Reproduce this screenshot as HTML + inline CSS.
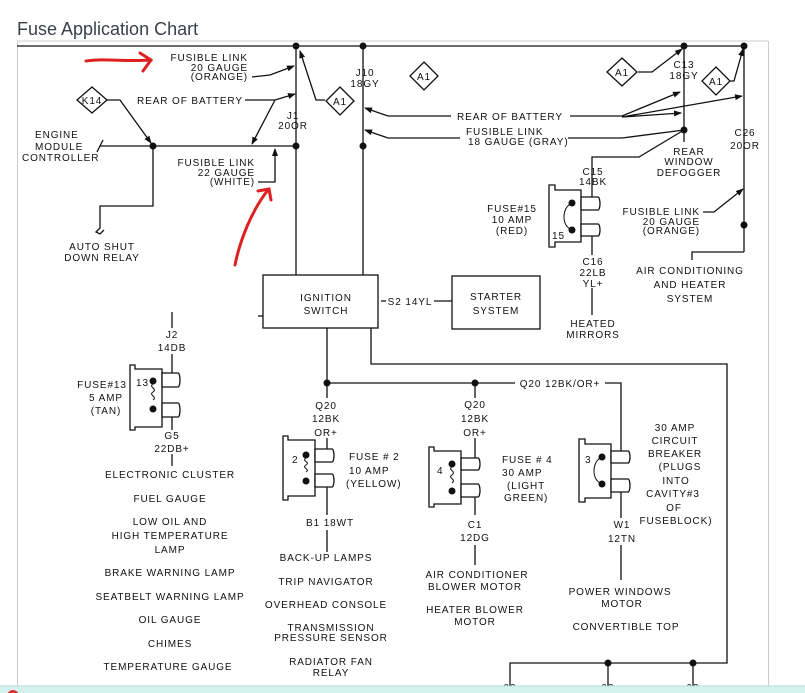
<!DOCTYPE html>
<html><head><meta charset="utf-8"><style>
html,body{margin:0;padding:0;background:#fff;width:805px;height:693px;overflow:hidden}
svg{display:block}
text{font-family:"Liberation Sans",sans-serif;font-size:10px;letter-spacing:0.9px;fill:#111}
.t{font-size:18px;letter-spacing:0;fill:#3a3f4a}
</style></head><body>
<svg width="805" height="693" viewBox="0 0 805 693" xmlns="http://www.w3.org/2000/svg">
<defs><marker id="a" markerWidth="8" markerHeight="8" refX="7" refY="4" orient="auto" markerUnits="userSpaceOnUse"><path d="M0,1 L8,4 L0,7z" fill="#111"/></marker></defs>
<text x="17" y="35" class="t">Fuse Application Chart</text>
<line x1="17" y1="41" x2="768" y2="41" stroke="#ccc"/>
<line x1="17.5" y1="41" x2="17.5" y2="686" stroke="#ccc"/>
<line x1="768.5" y1="41" x2="768.5" y2="686" stroke="#ccc"/>
<g stroke="#e02020" stroke-width="3" fill="none" stroke-linecap="round">
<path d="M86,61 C105,58 125,62 150,60"/><path d="M140,53 L151,60 L143,71"/>
<path d="M235,265 C240,240 252,210 268,190"/><path d="M258,191 L269,189 L271,200"/>
</g>
<g stroke="#111" stroke-width="1.3" fill="none">
<line x1="17" y1="46" x2="745" y2="46"/>
<line x1="296" y1="46" x2="296" y2="275"/>
<line x1="363" y1="46" x2="363" y2="275"/>
<path d="M100,146 H296"/>
<path d="M100,146 l3,-6 M100,146 l-3,6"/>
<path d="M153,146 V206 H100 V228 l-4,4 l4,2 l4,-4"/>
<path d="M107,100 H120 L151,143" marker-end="url(#a)"/>
<path d="M252,77 L270,75 L294,66" marker-end="url(#a)"/>
<path d="M245,100 H275 L295,94" marker-end="url(#a)"/>
<path d="M275,100 L252,144" marker-end="url(#a)"/>
<path d="M258,182 H275 V149" marker-end="url(#a)"/>
<path d="M325,100 H316 L300,51" marker-end="url(#a)"/>
<path d="M451,116 H388 L365,108" marker-end="url(#a)"/>
<path d="M460,138 H388 L365,130" marker-end="url(#a)"/>
<path d="M570,116 H622 L680,92" marker-end="url(#a)"/>
<path d="M622,117 L742,96" marker-end="url(#a)"/>
<path d="M622,117 L681,113" marker-end="url(#a)"/>
<path d="M568,138 H622 L684,130"/>
<line x1="684" y1="46" x2="684" y2="142"/>
<path d="M684,130 L639,157 H592 V197"/>
<path d="M638,72 H652 L682,49" marker-end="url(#a)"/>
<path d="M730,81 H734 L743,49" marker-end="url(#a)"/>
<line x1="744" y1="46" x2="744" y2="252"/>
<path d="M744,252 H692 V260"/>
<path d="M703,212 H714 L743,189" marker-end="url(#a)"/>
<rect x="263" y="275" width="115" height="53"/>
<rect x="452" y="276" width="88" height="53"/>
<path d="M381,301 H386 M434,301 H452"/>
<path d="M263,316 H258"/>
<path d="M327,328 V383 M371,328 V364 H727 V663 H510 V690"/>
<path d="M608,663 V690 M693,663 V690"/>
<path d="M327,383 H515 M605,383 H621 V451"/>
<path d="M327,383 V398 M475,383 V398"/>
<path d="M172,312 V328 M172,354 V373 M172,417 V430 M172,454 V466"/>
<path d="M327,438 V449 M327,487 V515 M327,530 V552"/>
<path d="M475,438 V458 M475,497 V515 M475,545 V565"/>
<path d="M621,492 V518 M621,545 V580"/>
<path d="M592,236 V255 M592,288 V315"/>
</g>
<g fill="#111">
<circle cx="296" cy="46" r="3.5"/><circle cx="363" cy="46" r="3.5"/><circle cx="684" cy="46" r="3.5"/><circle cx="744" cy="46" r="3.5"/>
<circle cx="153" cy="146" r="3.5"/><circle cx="296" cy="146" r="3.5"/><circle cx="363" cy="146" r="3.5"/>
<circle cx="684" cy="130" r="3.5"/><circle cx="744" cy="225" r="3.5"/>
<circle cx="327" cy="383" r="3.5"/><circle cx="475" cy="383" r="3.5"/>
<circle cx="608" cy="663" r="3.5"/><circle cx="693" cy="663" r="3.5"/>
</g>
<g fill="#fff" stroke="#111" stroke-width="1.3">
<path d="M92,87 L107,100 L92,113 L77,100z"/>
<path d="M340,87 L354,101 L340,115 L326,101z"/>
<path d="M424,62 L438,76 L424,90 L410,76z"/>
<path d="M622,58 L637,72 L622,86 L607,72z"/>
<path d="M716,67 L730,81 L716,95 L702,81z"/>
</g>
<g text-anchor="middle">
<text x="92" y="104" font-size="9">K14</text><text x="340" y="105" font-size="9">A1</text><text x="424" y="80" font-size="9">A1</text><text x="622" y="76" font-size="9">A1</text><text x="716" y="85" font-size="9">A1</text>
</g>
<g stroke="#111" stroke-width="1.3" fill="#fff">
<path d="M130,365 h5 v4 h27 v58 h-27 v3 h-5z"/><path d="M162,373 h16 a2,7 0 0 1 0,14 h-16z"/><path d="M162,403 h16 a2,7 0 0 1 0,14 h-16z"/>
<path d="M283,436 h5 v4 h27 v56 h-27 v4 h-5z"/><path d="M315,449 h17 a2,6.5 0 0 1 0,13 h-17z"/><path d="M315,474 h17 a2,6.5 0 0 1 0,13 h-17z"/>
<path d="M429,447 h5 v4 h27 v53 h-27 v3 h-5z"/><path d="M461,458 h17 a2,6 0 0 1 0,12 h-17z"/><path d="M461,484 h17 a2,6.5 0 0 1 0,13 h-17z"/>
<path d="M579,439 h6 v5 h26 v54 h-26 v4 h-6z"/><path d="M611,451 h17 a2,6 0 0 1 0,12 h-17z"/><path d="M611,479 h17 a2,6.5 0 0 1 0,13 h-17z"/>
<path d="M549,185 h6 v5 h26 v52 h-26 v5 h-6z"/><path d="M581,197 h17 a2,6.5 0 0 1 0,13 h-17z"/><path d="M581,224 h17 a2,6 0 0 1 0,12 h-17z"/>
</g>
<g fill="#111" stroke="#111" stroke-width="1">
<circle cx="153" cy="381" r="3"/><circle cx="153" cy="409" r="3"/><path d="M153,384 c-5,3 5,5 0,8 c-5,3 5,5 0,8" fill="none"/>
<circle cx="306" cy="455" r="3"/><circle cx="306" cy="481" r="3"/><path d="M306,458 c-5,3 5,4 0,7 c-5,3 5,4 0,7" fill="none"/>
<circle cx="452" cy="464" r="3"/><circle cx="452" cy="491" r="3"/><path d="M452,467 c-5,3 5,4 0,8 c-5,3 5,4 0,8" fill="none"/>
<circle cx="602" cy="457" r="3"/><circle cx="602" cy="484" r="3"/><path d="M600,458 c-8,6 -8,20 0,25" fill="none"/>
<circle cx="572" cy="203" r="3"/><circle cx="572" cy="230" r="3"/><path d="M570,204 c-8,6 -8,20 0,25" fill="none"/>
</g>
<g>
<text x="248" y="61" text-anchor="end">FUSIBLE LINK</text><text x="248" y="71" text-anchor="end">20 GAUGE</text><text x="248" y="80" text-anchor="end">(ORANGE)</text>
<text x="137" y="104">REAR OF BATTERY</text>
<text x="35" y="138">ENGINE</text><text x="35" y="150">MODULE</text><text x="22" y="161">CONTROLLER</text>
<text x="255" y="166" text-anchor="end">FUSIBLE LINK</text><text x="255" y="176" text-anchor="end">22 GAUGE</text><text x="255" y="185" text-anchor="end">(WHITE)</text>
<text x="102" y="250" text-anchor="middle">AUTO SHUT</text><text x="102" y="261" text-anchor="middle">DOWN RELAY</text>
<text x="293" y="119" text-anchor="middle">J1</text><text x="293" y="129" text-anchor="middle">20OR</text>
<text x="365" y="76" text-anchor="middle">J10</text><text x="365" y="87" text-anchor="middle">18GY</text>
<text x="457" y="120">REAR OF BATTERY</text>
<text x="466" y="135">FUSIBLE LINK</text><text x="468" y="145">18 GAUGE (GRAY)</text>
<text x="684" y="68" text-anchor="middle">C13</text><text x="684" y="79" text-anchor="middle">18GY</text>
<text x="689" y="155" text-anchor="middle">REAR</text><text x="689" y="165" text-anchor="middle">WINDOW</text><text x="689" y="176" text-anchor="middle">DEFOGGER</text>
<text x="745" y="136" text-anchor="middle">C26</text><text x="745" y="149" text-anchor="middle">20OR</text>
<text x="700" y="215" text-anchor="end">FUSIBLE LINK</text><text x="700" y="225" text-anchor="end">20 GAUGE</text><text x="700" y="234" text-anchor="end">(ORANGE)</text>
<text x="690" y="274" text-anchor="middle">AIR CONDITIONING</text><text x="690" y="288" text-anchor="middle">AND HEATER</text><text x="690" y="302" text-anchor="middle">SYSTEM</text>
<text x="593" y="175" text-anchor="middle">C15</text><text x="593" y="185" text-anchor="middle">14BK</text>
<text x="512" y="212" text-anchor="middle">FUSE#15</text><text x="512" y="223" text-anchor="middle">10 AMP</text><text x="512" y="234" text-anchor="middle">(RED)</text>
<text x="552" y="239">15</text>
<text x="593" y="265" text-anchor="middle">C16</text><text x="593" y="276" text-anchor="middle">22LB</text><text x="593" y="287" text-anchor="middle">YL+</text>
<text x="593" y="327" text-anchor="middle">HEATED</text><text x="593" y="338" text-anchor="middle">MIRRORS</text>
<text x="326" y="301" text-anchor="middle">IGNITION</text><text x="326" y="314" text-anchor="middle">SWITCH</text>
<text x="410" y="305" text-anchor="middle">S2 14YL</text>
<text x="496" y="300" text-anchor="middle">STARTER</text><text x="496" y="314" text-anchor="middle">SYSTEM</text>
<text x="172" y="338" text-anchor="middle">J2</text><text x="172" y="351" text-anchor="middle">14DB</text>
<text x="102" y="388" text-anchor="middle">FUSE#13</text><text x="106" y="401" text-anchor="middle">5 AMP</text><text x="106" y="414" text-anchor="middle">(TAN)</text>
<text x="136" y="386">13</text>
<text x="172" y="439" text-anchor="middle">G5</text><text x="172" y="452" text-anchor="middle">22DB+</text>
<text x="170" y="478" text-anchor="middle">ELECTRONIC CLUSTER</text>
<text x="170" y="502" text-anchor="middle">FUEL GAUGE</text>
<text x="170" y="525" text-anchor="middle">LOW OIL AND</text><text x="170" y="539" text-anchor="middle">HIGH TEMPERATURE</text><text x="170" y="553" text-anchor="middle">LAMP</text>
<text x="170" y="576" text-anchor="middle">BRAKE WARNING LAMP</text>
<text x="170" y="600" text-anchor="middle">SEATBELT WARNING LAMP</text>
<text x="170" y="623" text-anchor="middle">OIL GAUGE</text>
<text x="170" y="647" text-anchor="middle">CHIMES</text>
<text x="168" y="670" text-anchor="middle">TEMPERATURE GAUGE</text>
<text x="326" y="409" text-anchor="middle">Q20</text><text x="326" y="422" text-anchor="middle">12BK</text><text x="326" y="436" text-anchor="middle">OR+</text>
<text x="292" y="463">2</text>
<text x="349" y="460">FUSE # 2</text><text x="349" y="474">10 AMP</text><text x="346" y="487">(YELLOW)</text>
<text x="330" y="526" text-anchor="middle">B1  18WT</text>
<text x="326" y="561" text-anchor="middle">BACK-UP LAMPS</text>
<text x="326" y="585" text-anchor="middle">TRIP NAVIGATOR</text>
<text x="326" y="608" text-anchor="middle">OVERHEAD CONSOLE</text>
<text x="331" y="631" text-anchor="middle">TRANSMISSION</text><text x="331" y="641" text-anchor="middle">PRESSURE SENSOR</text>
<text x="331" y="665" text-anchor="middle">RADIATOR FAN</text><text x="331" y="676" text-anchor="middle">RELAY</text>
<text x="560" y="387" text-anchor="middle">Q20 12BK/OR+</text>
<text x="475" y="408" text-anchor="middle">Q20</text><text x="475" y="422" text-anchor="middle">12BK</text><text x="475" y="436" text-anchor="middle">OR+</text>
<text x="437" y="474">4</text>
<text x="502" y="463">FUSE # 4</text><text x="502" y="476">30 AMP</text><text x="507" y="489">(LIGHT</text><text x="504" y="501">GREEN)</text>
<text x="475" y="528" text-anchor="middle">C1</text><text x="475" y="541" text-anchor="middle">12DG</text>
<text x="477" y="578" text-anchor="middle">AIR CONDITIONER</text><text x="475" y="590" text-anchor="middle">BLOWER MOTOR</text>
<text x="475" y="613" text-anchor="middle">HEATER BLOWER</text><text x="475" y="625" text-anchor="middle">MOTOR</text>
<text x="585" y="463">3</text>
<text x="675" y="431" text-anchor="middle">30 AMP</text><text x="675" y="444" text-anchor="middle">CIRCUIT</text><text x="675" y="457" text-anchor="middle">BREAKER</text><text x="680" y="470" text-anchor="middle">(PLUGS</text><text x="676" y="484" text-anchor="middle">INTO</text><text x="673" y="497" text-anchor="middle">CAVITY#3</text><text x="674" y="511" text-anchor="middle">OF</text><text x="676" y="524" text-anchor="middle">FUSEBLOCK)</text>
<text x="622" y="528" text-anchor="middle">W1</text><text x="622" y="542" text-anchor="middle">12TN</text>
<text x="620" y="595" text-anchor="middle">POWER WINDOWS</text><text x="622" y="607" text-anchor="middle">MOTOR</text>
<text x="626" y="630" text-anchor="middle">CONVERTIBLE TOP</text>
<text x="510" y="691" text-anchor="middle">02</text><text x="608" y="691" text-anchor="middle">02</text><text x="693" y="691" text-anchor="middle">02</text>
</g>
<rect x="0" y="686" width="805" height="7" fill="#d4f3ef"/>
<line x1="0" y1="686" x2="805" y2="686" stroke="#b5dcd6"/>
<circle cx="13" cy="696" r="6" fill="#d33"/>
</svg>
</body></html>
